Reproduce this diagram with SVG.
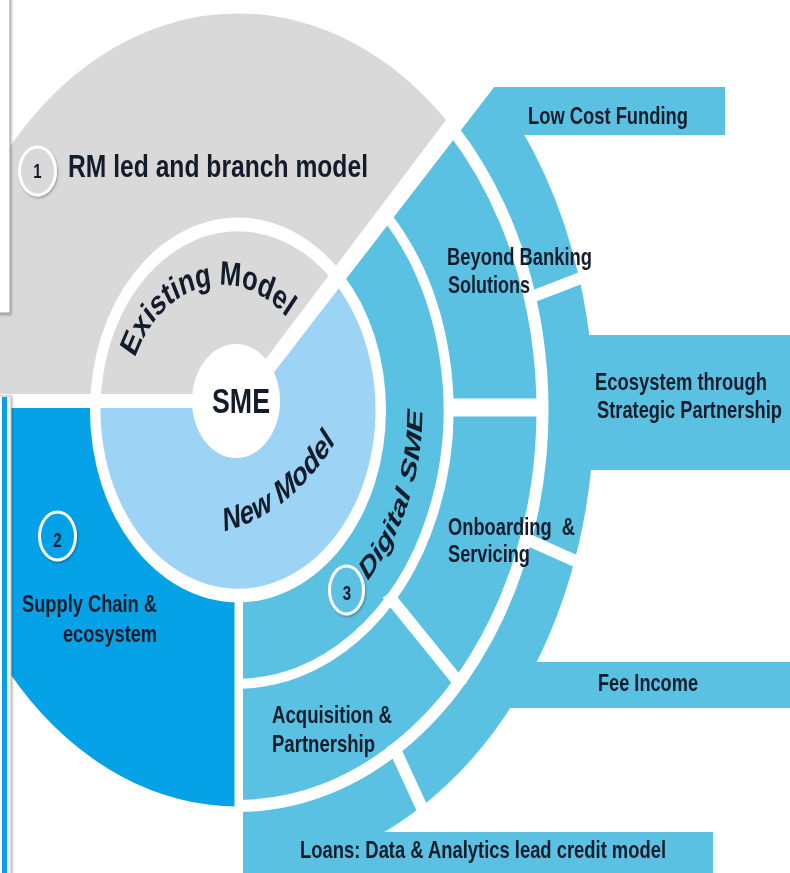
<svg xmlns="http://www.w3.org/2000/svg" width="790" height="873" viewBox="0 0 790 873">
<defs>
<style>
.gray{fill:#D9D9D9}
.deep{fill:#05A2E7}
.light{fill:#9DD3F4}
.mid{fill:#5BC1E2}
.lbl{font-family:"Liberation Sans",Arial,sans-serif;font-weight:bold;fill:#131c2a;font-size:18px}
.cut{fill:none;stroke:#000;vector-effect:non-scaling-stroke}
.badge{stroke:#fff;stroke-width:3}
</style>
<filter id="sh" x="-30%" y="-30%" width="160%" height="160%">
<feDropShadow dx="1" dy="1.5" stdDeviation="1.3" flood-color="#000" flood-opacity="0.3"/>
</filter>
<mask id="mA" maskUnits="userSpaceOnUse" x="-50" y="-50" width="900" height="1000">
<rect x="-50" y="-50" width="900" height="1000" fill="#fff"/>
<ellipse cx="238" cy="410" rx="148" ry="192.4" fill="#000"/>
<polygon points="230.4,405.8 513.6,30.6 528.8,42.2 241.6,414.2" fill="#000"/>
<rect x="-10" y="394" width="250" height="14" fill="#000"/>
<rect x="234.5" y="400" width="8.5" height="480" fill="#000"/>
<rect x="446" y="398.5" width="100" height="18" fill="#000"/>
<g transform="translate(238,410) scale(1,1.3)">
<path class="cut" stroke-width="10" d="M148.85,-148.85 A210.5,210.5 0 0,1 0,210.5"/>
<path class="cut" stroke-width="12" d="M215.32,-215.32 A304.5,304.5 0 0,1 0,304.5"/>
<path class="cut" stroke-width="12" d="M149.43,141.8 L224.14,212.7"/>
<path class="cut" stroke-width="12" d="M287.65,-85.21 L354.76,-105.09"/>
<path class="cut" stroke-width="12" d="M283.66,97.67 L349.84,120.46"/>
<path class="cut" stroke-width="12" d="M154.51,257.15 L190.56,317.15"/>
</g>
</mask>
<mask id="mB" maskUnits="userSpaceOnUse" x="-50" y="-50" width="900" height="1000">
<rect x="-50" y="-50" width="900" height="1000" fill="#fff"/>
<polygon points="230.4,405.8 513.6,30.6 528.8,42.2 241.6,414.2" fill="#000"/>
<rect x="-10" y="394" width="250" height="14" fill="#000"/>
</mask>
<path id="arcExisting" d="M-103.1,-39.6 A95.3,95.3 0 0,1 66.5,-48.65"/>
<path id="arcNew" d="M-13.6,93.3 A185,185 0 0,0 111,4.3"/>
<path id="arcDigital" d="M129.6,131.3 A184.5,184.5 0 0,0 181.7,-32.0"/>
</defs>

<rect width="790" height="873" fill="#fff"/>

<g id="low-cost-funding">
<g mask="url(#mA)" class="mid">
<path transform="translate(238,410) scale(1,1.3)" d="M251.73,-251.73 A356,356 0 0,1 341.34,-101.11 L291.96,-86.48 A304.5,304.5 0 0,0 215.32,-215.32 Z"/>
<rect x="480" y="87" width="245" height="48"/>
</g>
<text class="lbl" transform="translate(528,124) scale(1,1.3)" textLength="160" lengthAdjust="spacingAndGlyphs">Low Cost Funding</text>
</g>

<g id="ecosystem">
<g mask="url(#mA)" class="mid">
<path transform="translate(238,410) scale(1,1.3)" d="M341.34,-101.11 A356,356 0 0,1 336.6,115.9 L287.91,99.14 A304.5,304.5 0 0,0 291.96,-86.48 Z"/>
<rect x="560" y="335" width="230" height="135"/>
</g>
<text class="lbl" transform="translate(595,390) scale(1,1.3)" textLength="172" lengthAdjust="spacingAndGlyphs">Ecosystem through</text>
<text class="lbl" transform="translate(597,418) scale(1,1.3)" textLength="185" lengthAdjust="spacingAndGlyphs">Strategic Partnership</text>
</g>

<g id="fee-income">
<g mask="url(#mA)" class="mid">
<path transform="translate(238,410) scale(1,1.3)" d="M336.6,115.9 A356,356 0 0,1 183.35,305.15 L156.83,261.01 A304.5,304.5 0 0,0 287.91,99.14 Z"/>
<rect x="478" y="662" width="312" height="46"/>
</g>
<text class="lbl" transform="translate(598,691) scale(1,1.3)" textLength="100" lengthAdjust="spacingAndGlyphs">Fee Income</text>
</g>

<g id="loans">
<g mask="url(#mA)" class="mid">
<path transform="translate(238,410) scale(1,1.3)" d="M183.35,305.15 A356,356 0 0,1 0,356 L0,304.5 A304.5,304.5 0 0,0 156.83,261.01 Z"/>
<rect x="238" y="832" width="475" height="41"/>
</g>
<text class="lbl" transform="translate(300,858) scale(1,1.3)" textLength="366" lengthAdjust="spacingAndGlyphs">Loans: Data &amp; Analytics lead credit model</text>
</g>

<g id="beyond-banking">
<g mask="url(#mA)" class="mid">
<path transform="translate(238,410) scale(1,1.3)" d="M215.32,-215.32 A304.5,304.5 0 0,1 304.5,0 L210.5,0 A210.5,210.5 0 0,0 148.85,-148.85 Z"/>
</g>
<text class="lbl" transform="translate(447,265) scale(1,1.3)" textLength="145" lengthAdjust="spacingAndGlyphs">Beyond Banking</text>
<text class="lbl" transform="translate(448,293) scale(1,1.3)" textLength="82" lengthAdjust="spacingAndGlyphs">Solutions</text>
</g>

<g id="onboarding">
<g mask="url(#mA)" class="mid">
<path transform="translate(238,410) scale(1,1.3)" d="M304.5,0 A304.5,304.5 0 0,1 220.88,209.6 L152.69,144.9 A210.5,210.5 0 0,0 210.5,0 Z"/>
</g>
<text class="lbl" xml:space="preserve" transform="translate(448,535) scale(1,1.3)" textLength="127" lengthAdjust="spacingAndGlyphs">Onboarding  &amp;</text>
<text class="lbl" transform="translate(448,562) scale(1,1.3)" textLength="82" lengthAdjust="spacingAndGlyphs">Servicing</text>
</g>

<g id="acquisition">
<g mask="url(#mA)" class="mid">
<path transform="translate(238,410) scale(1,1.3)" d="M220.88,209.6 A304.5,304.5 0 0,1 0,304.5 L0,210.5 A210.5,210.5 0 0,0 152.69,144.9 Z"/>
</g>
<text class="lbl" transform="translate(272,723) scale(1,1.3)" textLength="120" lengthAdjust="spacingAndGlyphs">Acquisition &amp;</text>
<text class="lbl" transform="translate(272,752) scale(1,1.3)" textLength="103" lengthAdjust="spacingAndGlyphs">Partnership</text>
</g>

<g id="digital-sme">
<g mask="url(#mA)" class="mid">
<path transform="translate(238,410) scale(1,1.3)" d="M0,0 L148.85,-148.85 A210.5,210.5 0 0,1 0,210.5 Z"/>
</g>
<text class="lbl" transform="translate(238,410) scale(1,1.3)" style="font-size:22px;font-style:italic"><textPath href="#arcDigital" textLength="146" lengthAdjust="spacingAndGlyphs">Digital SME</textPath></text>
<ellipse cx="346.5" cy="590" rx="17" ry="24" class="mid badge" filter="url(#sh)"/>
<text class="lbl" text-anchor="middle" transform="translate(347,600) scale(1,1.3)" style="font-size:15px">3</text>
</g>

<g id="rm-led">
<g mask="url(#mA)" class="gray">
<path transform="translate(238,410) scale(1,1.3)" d="M0,-7 L-304.92,-7 A305,305 0 0,1 215.67,-215.67 Z"/>
</g>
<ellipse cx="37.5" cy="171" rx="18" ry="24" class="gray badge" filter="url(#sh)"/>
<text class="lbl" text-anchor="middle" transform="translate(37.5,178) scale(1,1.3)" style="font-size:15px">1</text>
<text class="lbl" transform="translate(68,177) scale(1,1.3)" style="font-size:24px" textLength="300" lengthAdjust="spacingAndGlyphs">RM led and branch model</text>
</g>

<g id="supply-chain">
<g mask="url(#mA)" class="deep">
<path transform="translate(238,410) scale(1,1.3)" d="M0,-7 L0,305 A305,305 0 0,1 -304.92,-7 Z"/>
</g>
<ellipse cx="57.5" cy="536" rx="18" ry="24" class="deep badge" filter="url(#sh)"/>
<text class="lbl" text-anchor="middle" transform="translate(57.5,547) scale(1,1.3)" style="font-size:15px">2</text>
<text class="lbl" transform="translate(22,612) scale(1,1.3)" textLength="135" lengthAdjust="spacingAndGlyphs">Supply Chain &amp;</text>
<text class="lbl" transform="translate(63,642) scale(1,1.3)" textLength="94" lengthAdjust="spacingAndGlyphs">ecosystem</text>
</g>

<g id="side-panels">
<rect x="-10" y="-10" width="20" height="323" fill="#fff" stroke="#a9a9a9" stroke-width="1.2" filter="url(#sh)"/>
<rect x="-10" y="396" width="21" height="490" fill="#fff" stroke="#b5b5b5" stroke-width="1" filter="url(#sh)"/>
<rect x="2" y="397" width="5" height="476" class="deep"/>
</g>

<g id="existing-model">
<g mask="url(#mB)" class="gray">
<path transform="translate(238,410) scale(1,1.3)" d="M0,-7 L-137.32,-7 A137.5,137.5 0 0,1 97.23,-97.23 Z"/>
</g>
<text class="lbl" transform="translate(238,410) scale(1,1.3)" style="font-size:26px"><textPath href="#arcExisting" textLength="181" lengthAdjust="spacingAndGlyphs">Existing Model</textPath></text>
</g>

<g id="new-model">
<g mask="url(#mB)" class="light">
<path transform="translate(238,410) scale(1,1.3)" d="M0,-7 L97.23,-97.23 A137.5,137.5 0 1,1 -137.32,-7 Z"/>
</g>
<text class="lbl" transform="translate(238,410) scale(1,1.3)" style="font-size:25px;font-style:italic"><textPath href="#arcNew" textLength="134" lengthAdjust="spacingAndGlyphs">New Model</textPath></text>
</g>

<g id="sme">
<ellipse cx="236" cy="401" rx="44" ry="57" fill="#fff"/>
<text class="lbl" text-anchor="middle" transform="translate(241,413) scale(1,1.3)" style="font-size:27px" textLength="58" lengthAdjust="spacingAndGlyphs">SME</text>
</g>

<g id="connectors"></g>
</svg>
